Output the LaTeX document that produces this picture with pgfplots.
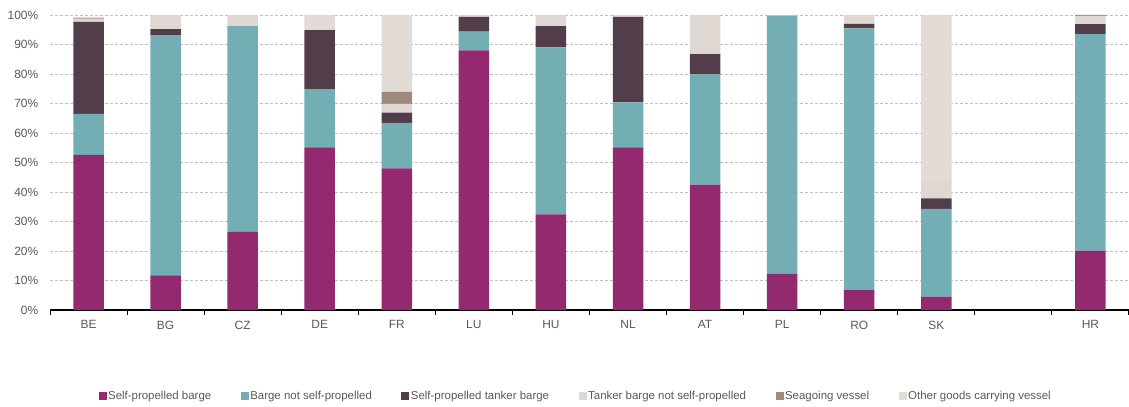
\documentclass[border=0pt]{standalone}
\usepackage{fontspec}
\setmainfont{Liberation Sans}
\usepackage{pgfplots}
\usepackage{pgfplotstable}
\pgfplotsset{compat=1.18}
\definecolor{cspb}{RGB}{147,41,111}
\definecolor{cbnsp}{RGB}{116,174,181}
\definecolor{cspt}{RGB}{82,61,75}
\definecolor{ctnsp}{RGB}{223,215,210}
\definecolor{csea}{RGB}{158,138,128}
\definecolor{coth}{RGB}{226,219,214}
\definecolor{textgray}{RGB}{89,89,89}
\pgfplotstableread{
x spb bnsp spt tnsp sea oth
0 52.6 13.9 31.2 0.8 0.35 0.55
1 11.7 81.5 2.0 4.8 0 0
2 26.5 69.75 0 3.75 0 0
3 55.1 19.8 20.0 0.9 0 4.2
4 48.0 15.4 3.5 3.0 4.0 26.1
5 88.0 6.4 5.0 0.6 0 0
6 32.4 56.6 7.25 3.75 0 0
7 55.1 15.3 29.0 0.6 0 0
8 42.5 37.4 6.8 13.3 0 0
9 12.3 87.5 0 0.2 0 0
10 6.7 88.8 1.5 3.0 0 0
11 4.5 29.8 3.5 6.2 0 56.0
13 20.1 73.4 3.4 2.8 0.3 0
}\data
\begin{document}
\begin{tikzpicture}
\useasboundingbox (-50bp,-97bp) rectangle (1079bp,310bp);
\begin{axis}[
  at={(0,0)}, anchor=south west,
  scale only axis, width=1079bp, height=295bp,
  xmin=-0.5, xmax=13.5, ymin=0, ymax=100,
  ybar stacked, bar width=30.5bp,
  ytick={0,10,...,100},
  yticklabel={\pgfmathprintnumber{\tick}\%},
  ymajorgrids, grid style={dash pattern=on 3bp off 2bp, color=black!25, line width=0.8bp},
  xtick={0,1,2,3,4,5,6,7,8,9,10,11,13},
  xticklabels={BE,BG,CZ,DE,FR,LU,HU,NL,AT,PL,RO,SK,HR},
  major x tick style={draw=none},
  minor xtick={-0.5,0.5,...,13.5},
  minor x tick style={black, line width=1bp},
  minor tick length=4.5bp,
  tick align=outside,
  ytick style={draw=none},
  axis x line*=bottom, axis y line*=left,
  y axis line style={draw=none},
  x axis line style={-, black, line width=1.6bp},
  ticklabel style={font=\fontsize{12}{14}\selectfont, text=textgray},
  /pgf/number format/assume math mode=true,
  yticklabel style={xshift=-4bp},
  xticklabel style={yshift=-3bp},
  legend style={at={(0.487,-0.2915)}, anchor=center, draw=none, fill=none,
    legend columns=6, font=\fontsize{11.5}{13}\selectfont, text=textgray,
    /tikz/every even column/.append style={column sep=28bp},
    nodes={inner sep=1.5bp}},
  legend image code/.code={\fill[#1] (0bp,-4bp) rectangle (8bp,4bp);},
  every axis plot/.append style={draw=none},
]
\addplot[fill=cspb] table[x=x,y=spb] {\data};
\addplot[fill=cbnsp] table[x=x,y=bnsp] {\data};
\addplot[fill=cspt] table[x=x,y=spt] {\data};
\addplot[fill=ctnsp] table[x=x,y=tnsp] {\data};
\addplot[fill=csea] table[x=x,y=sea] {\data};
\addplot[fill=coth] table[x=x,y=oth] {\data};
\legend{Self-propelled barge, Barge not self-propelled, Self-propelled tanker barge, Tanker barge not self-propelled, Seagoing vessel, Other goods carrying vessel}
\end{axis}
\end{tikzpicture}
\end{document}
